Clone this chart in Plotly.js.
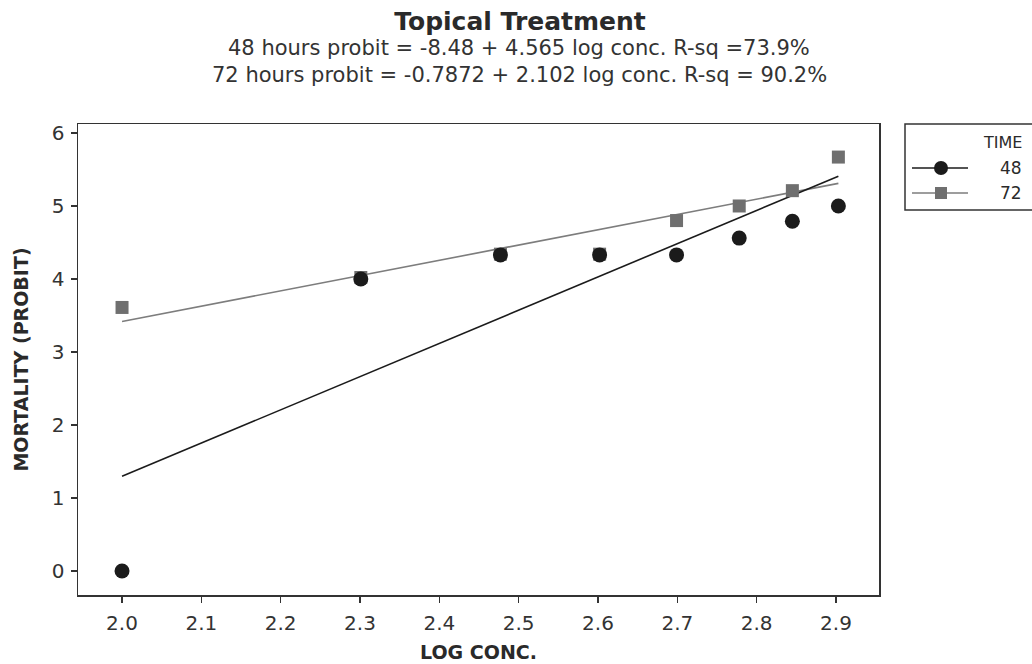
<!DOCTYPE html>
<html>
<head>
<meta charset="utf-8">
<script src="https://cdn.plot.ly/plotly-3.0.1.min.js"></script>
<style>html,body{margin:0;padding:0;background:#fff;}#chart{width:1032px;height:664px;}</style>
</head>
<body>
<div id="chart"></div>
<script>
// Data
const logConc = [2.0, 2.301, 2.477, 2.602, 2.699, 2.778, 2.845, 2.903];
const probit48 = [0.0, 4.0, 4.33, 4.33, 4.33, 4.56, 4.79, 5.0];
const probit72 = [3.61, 4.02, 4.34, 4.34, 4.8, 5.0, 5.21, 5.67];
const seriesNames = ['48', '72'];
const legendTitle = 'TIME';
const titleText = 'Topical Treatment';
const eqLine48 = '48 hours probit = -8.48 + 4.565 log conc. R-sq =73.9%';
const eqLine72 = '72 hours probit = -0.7872 + 2.102 log conc. R-sq = 90.2%';
const xTicks = [2.0, 2.1, 2.2, 2.3, 2.4, 2.5, 2.6, 2.7, 2.8, 2.9];
const yTicks = [0, 1, 2, 3, 4, 5, 6];

function lsFit(x, y) {
  const n = x.length;
  const mx = x.reduce((a, b) => a + b, 0) / n;
  const my = y.reduce((a, b) => a + b, 0) / n;
  let sxy = 0, sxx = 0;
  for (let i = 0; i < n; i++) { sxy += (x[i] - mx) * (y[i] - my); sxx += (x[i] - mx) * (x[i] - mx); }
  const b = sxy / sxx, a = my - b * mx;
  const xs = [Math.min(...x), Math.max(...x)];
  return { x: xs, y: xs.map(v => a + b * v) };
}
const fit48 = lsFit(logConc, probit48);
const fit72 = lsFit(logConc, probit72);

const C48 = '#1b1b1b', C72 = '#6f6f6f', L72 = '#7d7d7d';
const FONT = 'DejaVu Sans, Verdana, sans-serif';

// plot area in pixels: x 78..879, y 124..595
const PX = px => (px - 78) / 801;
const PY = py => (595 - py) / 471;

const traces = [
  { x: fit72.x, y: fit72.y, mode: 'lines', line: { color: L72, width: 1.6 }, showlegend: false, hoverinfo: 'skip' },
  { x: fit48.x, y: fit48.y, mode: 'lines', line: { color: C48, width: 1.6 }, showlegend: false, hoverinfo: 'skip' },
  { x: logConc, y: probit72, name: seriesNames[1], mode: 'markers', marker: { symbol: 'square', size: 13, color: C72 }, showlegend: false },
  { x: logConc, y: probit48, name: seriesNames[0], mode: 'markers', marker: { symbol: 'circle', size: 15, color: C48 }, showlegend: false }
];

const legendRows = [
  { name: seriesNames[0], py: 168, color: C48, lineColor: C48, symbol: 'circle' },
  { name: seriesNames[1], py: 193, color: C72, lineColor: L72, symbol: 'square' }
];

const shapes = [
  { type: 'rect', xref: 'paper', yref: 'paper', x0: PX(905), x1: PX(1045), y0: PY(210), y1: PY(124), line: { color: '#333333', width: 1.5 }, fillcolor: 'rgba(0,0,0,0)' }
];
const annotations = [
  { text: eqLine48, xref: 'paper', yref: 'paper', x: PX(519), y: PY(48), xanchor: 'center', yanchor: 'middle', showarrow: false, font: { family: FONT, size: 21, color: '#333333' } },
  { text: eqLine72, xref: 'paper', yref: 'paper', x: PX(519), y: PY(75), xanchor: 'center', yanchor: 'middle', showarrow: false, font: { family: FONT, size: 21, color: '#333333' } },
  { text: legendTitle, xref: 'paper', yref: 'paper', x: PX(1024), y: PY(142), xanchor: 'right', yanchor: 'middle', showarrow: false, font: { family: FONT, size: 16, color: '#2a2a2a' } }
];
legendRows.forEach(r => {
  shapes.push({ type: 'line', xref: 'paper', yref: 'paper', x0: PX(912), x1: PX(968), y0: PY(r.py), y1: PY(r.py), line: { color: r.lineColor, width: 1.6 } });
  if (r.symbol === 'circle') {
    shapes.push({ type: 'circle', xref: 'paper', yref: 'paper', x0: PX(934), x1: PX(948), y0: PY(r.py + 7), y1: PY(r.py - 7), line: { width: 0 }, fillcolor: r.color });
  } else {
    shapes.push({ type: 'rect', xref: 'paper', yref: 'paper', x0: PX(935), x1: PX(947), y0: PY(r.py + 6), y1: PY(r.py - 6), line: { width: 0 }, fillcolor: r.color });
  }
  annotations.push({ text: r.name, xref: 'paper', yref: 'paper', x: PX(1024), y: PY(r.py), xanchor: 'right', yanchor: 'middle', showarrow: false, font: { family: FONT, size: 17, color: '#2a2a2a' } });
});

const layout = {
  width: 1032, height: 664,
  margin: { l: 78, r: 153, t: 124, b: 69, pad: 0 },
  paper_bgcolor: '#ffffff', plot_bgcolor: '#ffffff',
  font: { family: FONT, color: '#333333' },
  title: { text: '<b>' + titleText + '</b>', x: 520 / 1032, xref: 'container', xanchor: 'center', y: 1 - 21 / 664, yref: 'container', yanchor: 'middle', font: { family: FONT, size: 25, color: '#2a2a2a' } },
  annotations: annotations,
  shapes: shapes,
  xaxis: {
    range: [1.9445, 2.9542], tickvals: xTicks, ticktext: xTicks.map(v => v.toFixed(1)),
    showline: true, mirror: true, linecolor: '#333333', linewidth: 1.5,
    ticks: 'outside', ticklen: 6, tickwidth: 1.5, tickcolor: '#333333',
    showgrid: false, zeroline: false, ticklabelstandoff: 3,
    tickfont: { family: FONT, size: 20, color: '#333333' },
    title: { text: '<b>LOG CONC.</b>', standoff: 12, font: { family: FONT, size: 19, color: '#2a2a2a' } }
  },
  yaxis: {
    range: [-0.329, 6.123], tickvals: yTicks,
    showline: true, mirror: true, linecolor: '#333333', linewidth: 1.5,
    ticks: 'outside', ticklen: 6, tickwidth: 1.5, tickcolor: '#333333',
    showgrid: false, zeroline: false, ticklabelstandoff: 2,
    tickfont: { family: FONT, size: 20, color: '#333333' },
    title: { text: '<b>MORTALITY (PROBIT)</b>', standoff: 18, font: { family: FONT, size: 19, color: '#2a2a2a' } }
  },
  showlegend: false
};

Plotly.newPlot('chart', traces, layout, { displayModeBar: false, staticPlot: true });
</script>
</body>
</html>
